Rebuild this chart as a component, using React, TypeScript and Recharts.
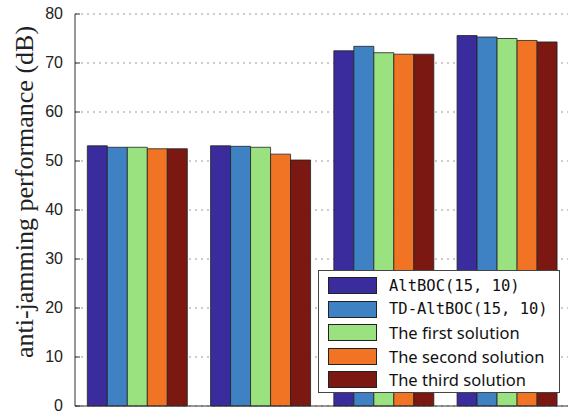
import { BarChart, Bar, XAxis, YAxis, CartesianGrid, Legend, Label } from "recharts"

const groups = ["G1", "G2", "G3", "G4"]
const altboc = [53.1, 53.1, 72.5, 75.6]
const tdAltboc = [52.8, 53.0, 73.4, 75.3]
const firstSol = [52.8, 52.8, 72.1, 75.0]
const secondSol = [52.5, 51.4, 71.8, 74.6]
const thirdSol = [52.5, 50.2, 71.8, 74.3]
const yTicks = [0, 10, 20, 30, 40, 50, 60, 70, 80]

const series = [
  { key: "altboc", name: "AltBOC(15, 10)", color: "#3a2c9c", mono: true },
  { key: "td", name: "TD-AltBOC(15, 10)", color: "#3f82c4", mono: true },
  { key: "first", name: "The first solution", color: "#99e27f", mono: false },
  { key: "second", name: "The second solution", color: "#f07424", mono: false },
  { key: "third", name: "The third solution", color: "#7b1812", mono: false },
]

const data = groups.map((g, i) => ({
  name: g,
  altboc: altboc[i],
  td: tdAltboc[i],
  first: firstSol[i],
  second: secondSol[i],
  third: thirdSol[i],
}))

function YTick(props: any) {
  const { y, payload } = props
  return (
    <g>
      <text x={63} y={y} dy={5} textAnchor="end" fontSize={16} fill="#222" fontFamily="Liberation Sans, Arial, sans-serif">
        {payload.value}
      </text>
      <line x1={75} x2={80} y1={y} y2={y} stroke="#333" />
    </g>
  )
}

function LegendBox() {
  return (
    <div
      style={{
        position: "absolute",
        left: 318,
        top: 270,
        width: 242,
        height: 123,
        background: "#fff",
        border: "1px solid #444",
        boxSizing: "border-box",
        paddingTop: 3,
      }}
    >
      {series.map((s) => (
        <div key={s.key} style={{ display: "flex", alignItems: "center", height: 23.5 }}>
          <div
            style={{
              marginLeft: 9,
              width: 49,
              height: 17,
              background: s.color,
              border: "1px solid #222",
              boxSizing: "border-box",
            }}
          />
          <span
            style={{
              marginLeft: 12,
              fontSize: s.mono ? 15.5 : 16.5,
              color: "#111",
              fontFamily: s.mono ? "DejaVu Sans Mono, monospace" : "Noto Sans, Liberation Sans, sans-serif",
              whiteSpace: "nowrap",
            }}
          >
            {s.name}
          </span>
        </div>
      ))}
    </div>
  )
}

export default function App() {
  return (
    <div style={{ position: "absolute", left: 0, top: 0, width: 571, height: 415, background: "#fff" }}>
      <BarChart
        width={571}
        height={415}
        data={data}
        margin={{ top: 14, right: 3, left: 0, bottom: 0 }}
        barCategoryGap="10%"
        barGap={0}
      >
        <CartesianGrid vertical={false} stroke="#999" strokeDasharray="2 4" />
        <XAxis dataKey="name" tick={false} tickLine={false} height={9} stroke="#333" />
        <YAxis
          width={75}
          domain={[0, 80]}
          ticks={yTicks}
          tick={<YTick />}
          tickLine={false}
          stroke="#333"
          interval={0}
        >
          <Label
            content={() => (
              <text
                x={33}
                y={192}
                transform="rotate(-90 33 192)"
                textAnchor="middle"
                fontSize={26}
                fill="#222"
                fontFamily="Liberation Serif, Times New Roman, serif"
              >
                anti-jamming performance (dB)
              </text>
            )}
          />
        </YAxis>
        <Legend content={() => null} />
        {series.map((s) => (
          <Bar
            key={s.key}
            dataKey={s.key}
            name={s.name}
            fill={s.color}
            stroke="#222"
            strokeWidth={0.8}
            isAnimationActive={false}
          />
        ))}
      </BarChart>
      <LegendBox />
    </div>
  )
}
